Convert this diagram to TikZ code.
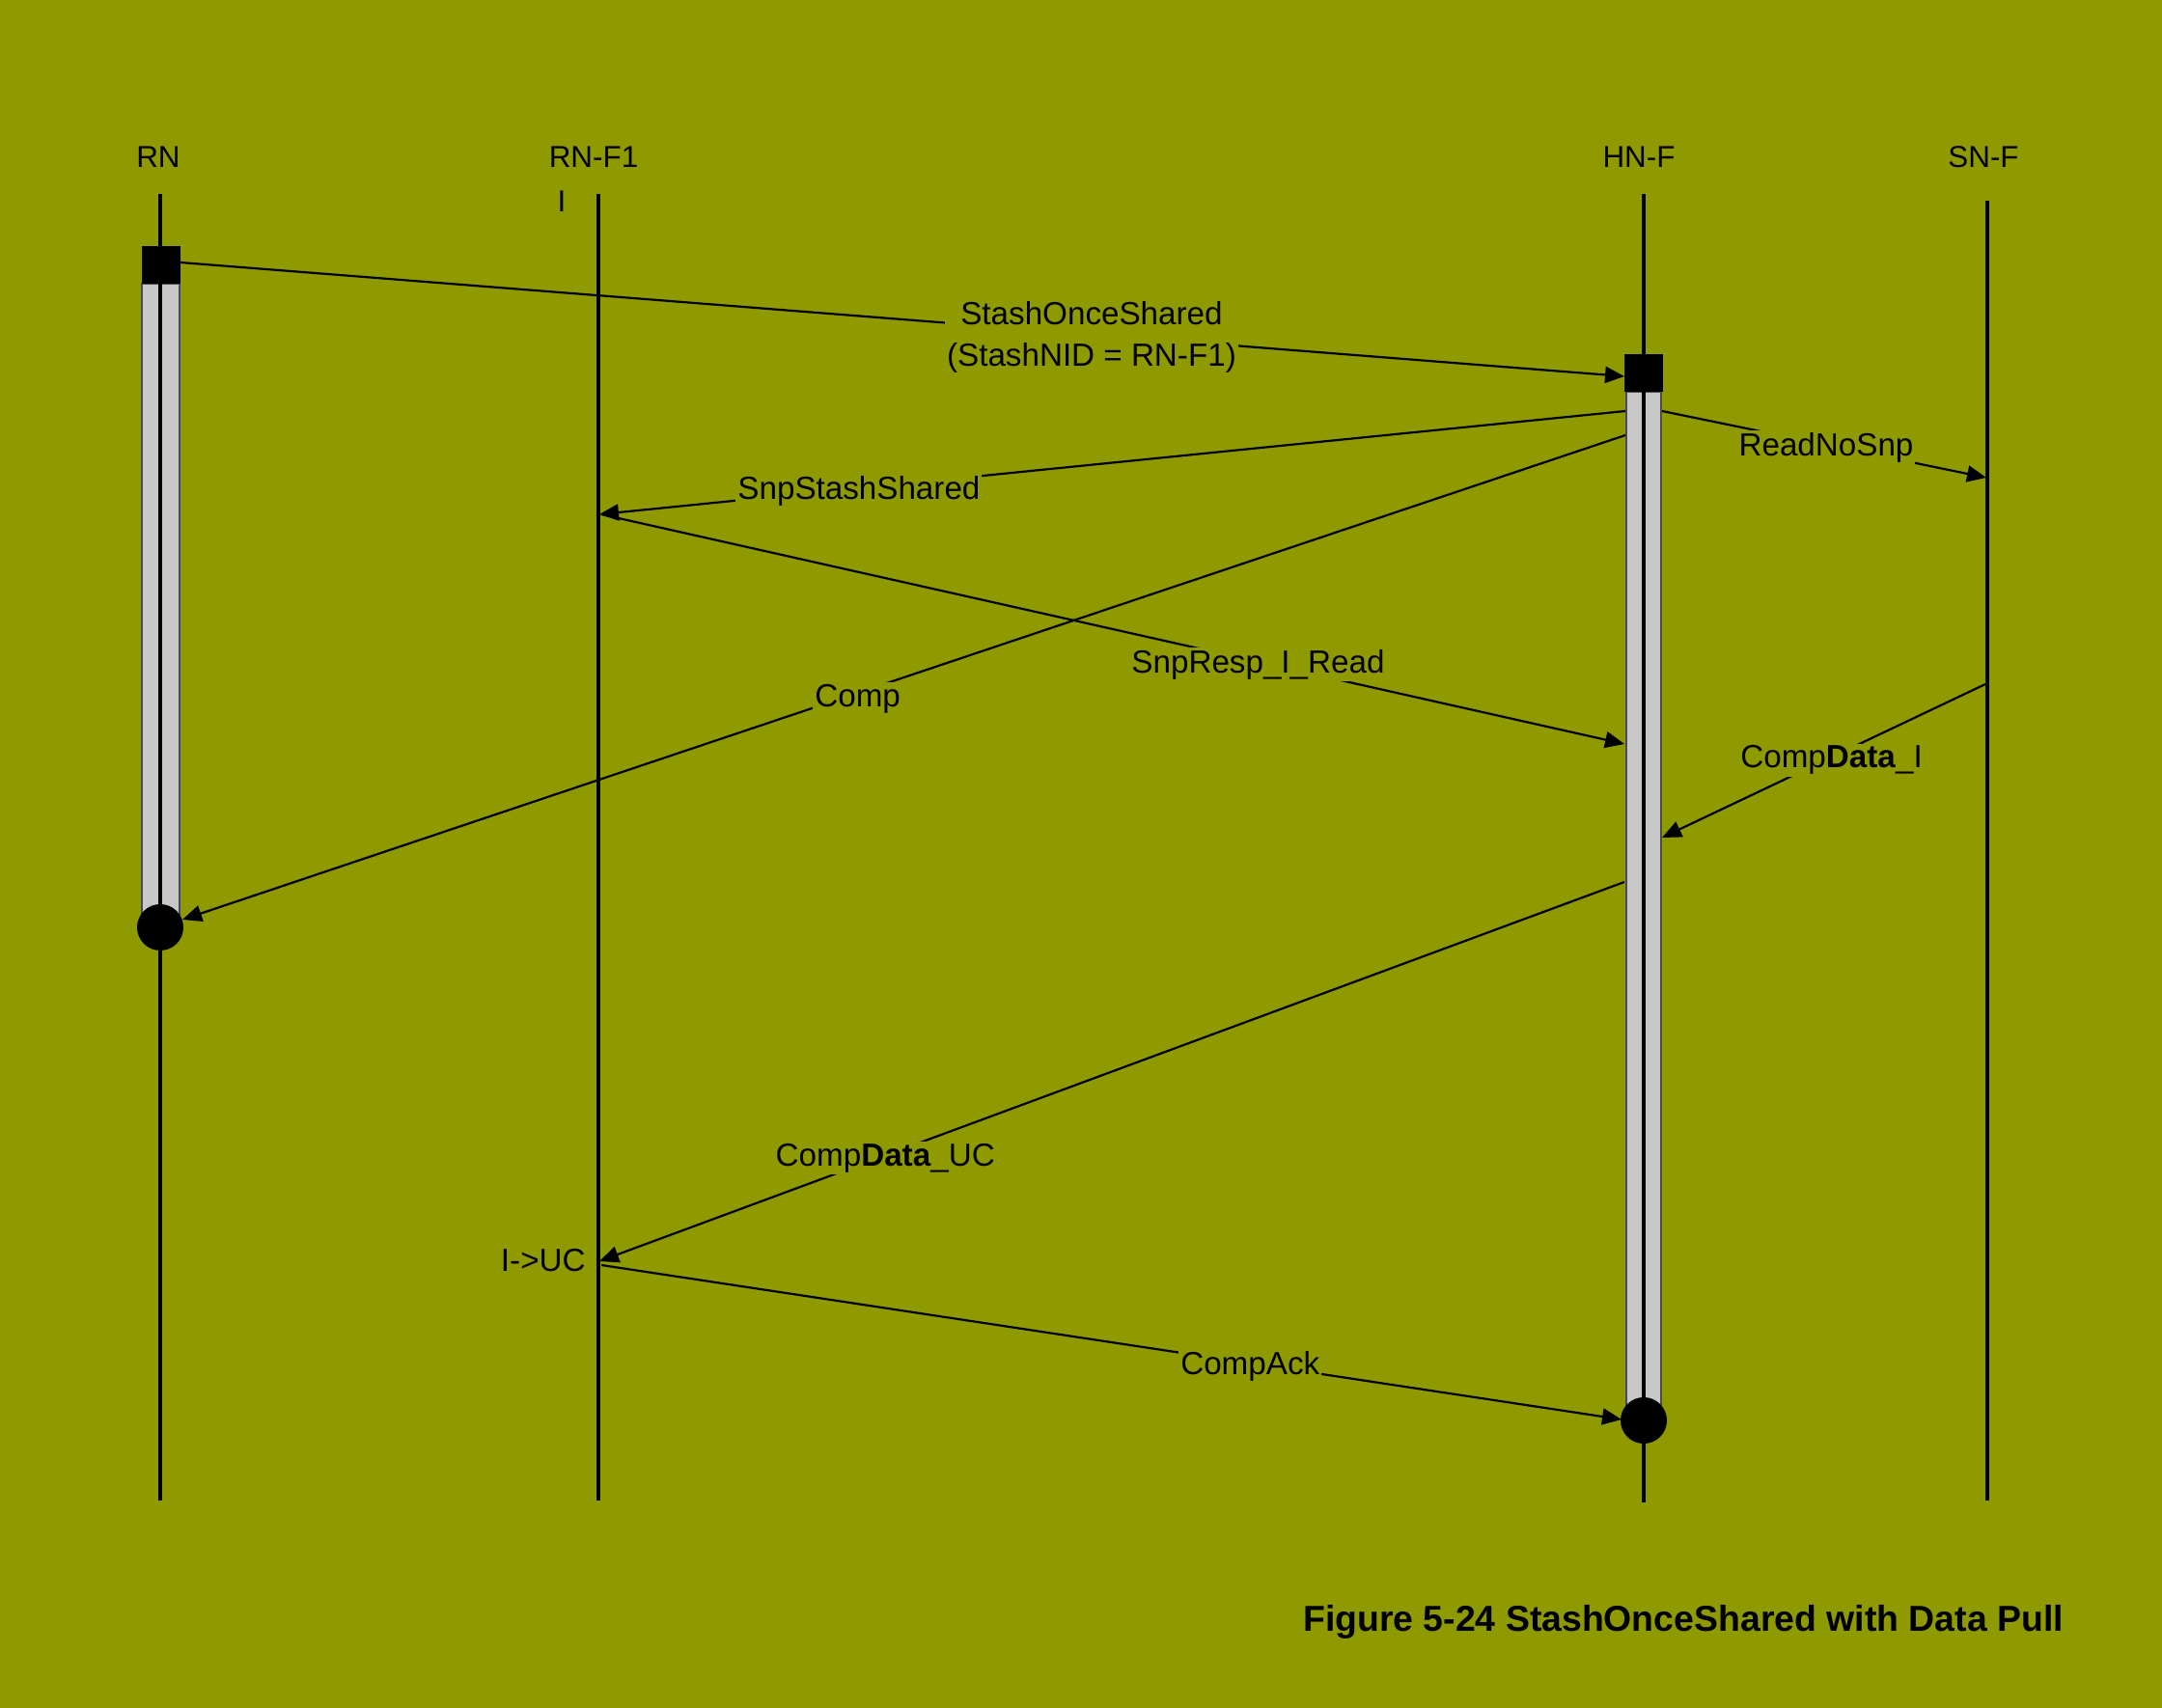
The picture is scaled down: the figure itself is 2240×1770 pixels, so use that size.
\documentclass[tikz,border=0pt]{standalone}
\usepackage{fontspec}
\setmainfont{Liberation Sans}
\usetikzlibrary{arrows.meta}
\definecolor{bg}{RGB}{143,153,0}
\definecolor{barfill}{RGB}{200,200,200}
\begin{document}
\begin{tikzpicture}[x=0.5pt,y=-0.5pt,
  life/.style={line width=2.1pt},
  msg/.style={line width=1.1pt,-{Triangle[length=10pt,width=8.5pt]}},
  lbl/.style={fill=bg,inner sep=1pt,yshift=-1.5pt,font=\fontsize{16.6}{21.5}\selectfont},
  head/.style={font=\fontsize{15.7}{18}\selectfont},
  actbar/.style={fill=barfill,draw=black!70,line width=0.6pt},
  ]
\fill[bg] (0,0) rectangle (2240,1770);
\useasboundingbox (0,0) rectangle (2240,1770);

% headers
\node[head] (hRN) at (164,163) {RN};
\node[head] (hRNF) at (615,163) {RN-F1};
\node[head] (hI) at (582,209) {I};
\node[head] (hHN) at (1698,163) {HN-F};
\node[head] (hSN) at (2055,163) {SN-F};

% lifeline end points
\coordinate (rnT) at (166,201);  \coordinate (rnB) at (166,1555);
\coordinate (rfT) at (620,201);  \coordinate (rfB) at (620,1555);
\coordinate (hnT) at (1703,201); \coordinate (hnB) at (1703,1557);
\coordinate (snT) at (2059,208); \coordinate (snB) at (2059,1555);

% activation bars
\draw[actbar] (147,294) rectangle (186,961);
\draw[actbar] (1685,406) rectangle (1721,1471);

% lifelines
\draw[life] (rnT) -- (rnB);
\draw[life] (rfT) -- (rfB);
\draw[life] (hnT) -- (hnB);
\draw[life] (snT) -- (snB);

% start boxes and end circles
\fill (147,255) rectangle (187,294);
\fill (1683,367) rectangle (1723,406);
\fill (166,961) circle[radius=12pt];
\fill (1703,1472) circle[radius=12pt];

% message end points
\coordinate (m1s) at (187,272);  \coordinate (m1e) at (1683,390);
\coordinate (m2s) at (1684,426); \coordinate (m2e) at (621,533);
\coordinate (m3s) at (1722,426); \coordinate (m3e) at (2058,495);
\coordinate (m4s) at (1684,451); \coordinate (m4e) at (189,953);
\coordinate (m5s) at (623,533);  \coordinate (m5e) at (1683,771);
\coordinate (m6s) at (2057,709); \coordinate (m6e) at (1722,868);
\coordinate (m7s) at (1683,914); \coordinate (m7e) at (621,1307);
\coordinate (m8s) at (623,1311); \coordinate (m8e) at (1680,1471);

% messages
\draw[msg] (m1s) -- node[lbl,pos=0.631,align=center] (l1) {StashOnceShared\\(StashNID = RN-F1)} (m1e);
\draw[msg] (m2s) -- node[lbl,pos=0.747] (l2) {SnpStashShared} (m2e);
\draw[msg] (m3s) -- node[lbl,pos=0.506] (l3) {ReadNoSnp} (m3e);
\draw[msg] (m4s) -- node[lbl,pos=0.532,yshift=-1.5pt] (l4) {Comp} (m4e);
\draw[msg] (m5s) -- node[lbl,pos=0.642] (l5) {SnpResp\_I\_Read} (m5e);
\draw[msg] (m6s) -- node[lbl,pos=0.476] (l6) {Comp\textbf{Data}\_I} (m6e);
\draw[msg] (m7s) -- node[lbl,pos=0.721] (l7) {Comp\textbf{Data}\_UC} (m7e);
\draw[msg] (m8s) -- node[lbl,pos=0.636] (l8) {CompAck} (m8e);

\node[font=\fontsize{16.6}{21.5}\selectfont,anchor=east,inner sep=0pt] (state) at (607,1306) {I->UC};

% caption
\node[font=\bfseries\fontsize{18.7}{22}\selectfont,anchor=base,inner sep=0pt] (title) at (1744,1690) {Figure 5-24 StashOnceShared with Data Pull};
\end{tikzpicture}
\end{document}
